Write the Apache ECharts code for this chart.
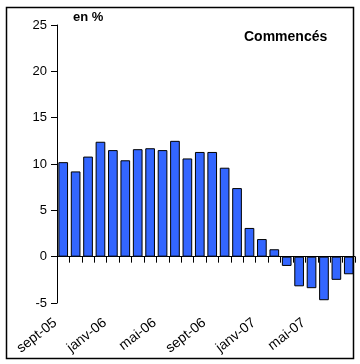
<!DOCTYPE html>
<html>
<head>
<meta charset="utf-8">
<script src="https://cdn.jsdelivr.net/npm/echarts@6/dist/echarts.min.js"></script>
<style>
html,body{margin:0;padding:0;background:#fff;}
#c{width:360px;height:364px;}
</style>
</head>
<body>
<div id="c"></div>
<script>
const categories = ["sept-05","oct-05","nov-05","déc-05","janv-06","févr-06","mars-06","avr-06","mai-06","juin-06","juil-06","août-06","sept-06","oct-06","nov-06","déc-06","janv-07","févr-07","mars-07","avr-07","mai-07","juin-07","juil-07","août-07"];
const values = [10.2, 9.2, 10.8, 12.4, 11.5, 10.4, 11.6, 11.7, 11.5, 12.5, 10.6, 11.3, 11.3, 9.6, 7.4, 3.1, 1.9, 0.8, -1.0, -3.2, -3.4, -4.7, -2.5, -1.9];
const yTicks = [-5, 0, 5, 10, 15, 20, 25];
const unitLabel = "en %";
const seriesName = "Commencés";

const chart = echarts.init(document.getElementById('c'));
const font = 'Liberation Sans, Arial, sans-serif';
chart.setOption({
  animation: false,
  backgroundColor: '#fff',
  grid: {left: 57, right: 5, top: 25, bottom: 61, containLabel: false},
  graphic: [
    {type: 'rect', shape: {x: 6.5, y: 7.5, width: 347, height: 351}, style: {fill: 'none', stroke: '#000', lineWidth: 1.5}, z: 100},
    {type: 'text', left: 73, top: 11, style: {text: unitLabel, font: 'bold 13px ' + font, fill: '#000'}},
    {type: 'text', left: 244, top: 30, style: {text: seriesName, font: 'bold 14px ' + font, fill: '#000'}}
  ],
  xAxis: [
    {
      type: 'category', data: categories, boundaryGap: true,
      axisLine: {onZero: true, lineStyle: {color: '#000', width: 1}},
      axisTick: {show: true, interval: 0, length: 6, lineStyle: {color: '#000'}},
      axisLabel: {show: false}
    },
    {
      type: 'category', data: categories, position: 'bottom', boundaryGap: true,
      axisLine: {show: false, onZero: false},
      axisTick: {show: false},
      axisLabel: {show: true, interval: 3, rotate: 38, margin: 12, padding: [0, 10, 0, 0], fontSize: 14, fontFamily: font, color: '#000'}
    }
  ],
  yAxis: {
    type: 'value', min: yTicks[0], max: yTicks[yTicks.length - 1], interval: 5,
    axisLine: {show: true, lineStyle: {color: '#000', width: 1}},
    axisTick: {show: true, length: 6, lineStyle: {color: '#000'}},
    axisLabel: {margin: 10, fontSize: 13, fontFamily: font, color: '#000'},
    splitLine: {show: false}
  },
  series: [{
    type: 'bar', data: values, xAxisIndex: 0,
    barCategoryGap: '22%',
    itemStyle: {color: '#3366FF', borderColor: '#000', borderWidth: 1}
  }]
});
</script>
</body>
</html>
